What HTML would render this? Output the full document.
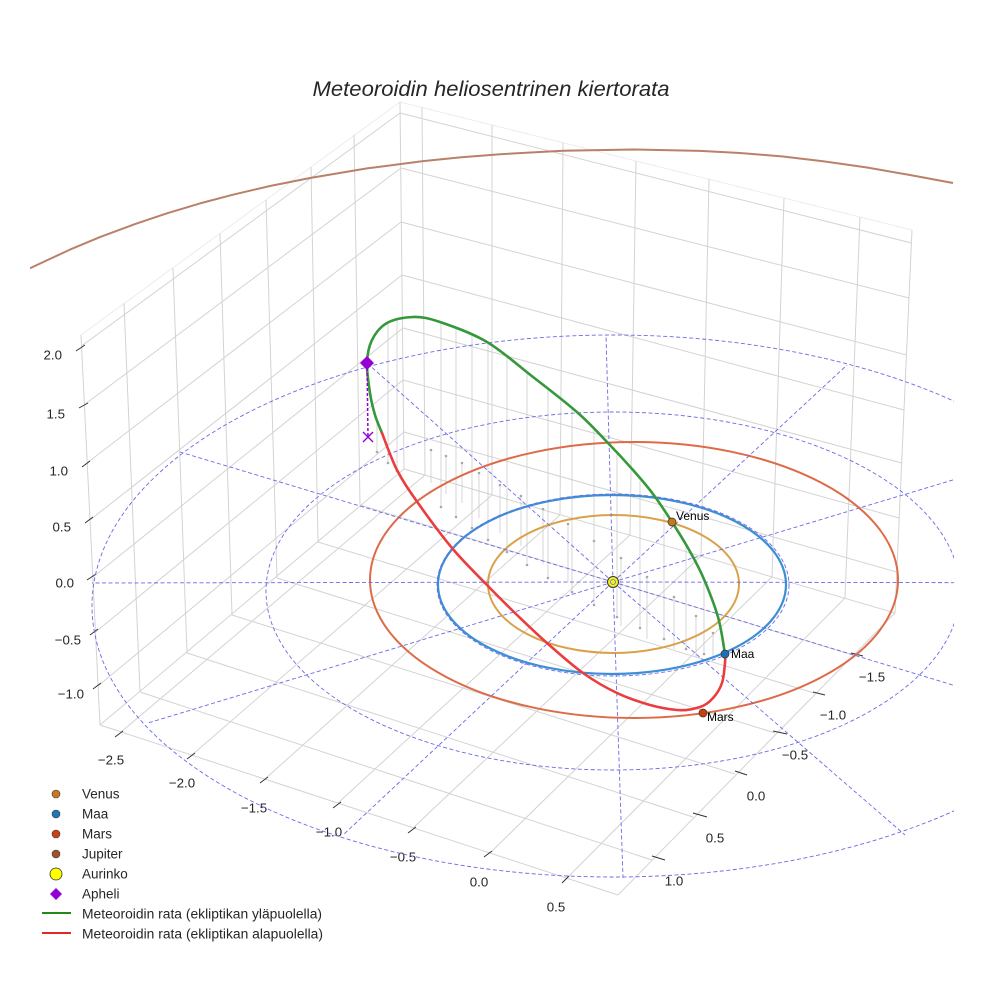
<!DOCTYPE html>
<html><head><meta charset="utf-8"><style>
html,body{margin:0;padding:0;background:#fff;}
svg{display:block;}
text{font-family:"Liberation Sans",sans-serif;fill:#262626;}
</style></head><body>
<svg width="984" height="984" viewBox="0 0 984 984" xmlns="http://www.w3.org/2000/svg">
<defs><clipPath id="cp"><rect x="30" y="0" width="924" height="984"/></clipPath></defs>
<rect width="984" height="984" fill="#fff"/>
<text x="491" y="96" font-size="21.5" font-style="italic" text-anchor="middle" textLength="357" lengthAdjust="spacingAndGlyphs">Meteoroidin heliosentrinen kiertorata</text>

<!-- pane top edges -->
<path d="M81 335 L400 102 L912 230" stroke="#ececec" stroke-width="1" fill="none"/>
<!-- grid -->
<path stroke="#d3d3d3" stroke-width="1" fill="none" d="
M81.5 346 L400 113 M84 405 L401 168 M87 463 L401 222 M90 520 L402 275 M93 577 L403 328 M95.5 632 L403 380 M98 686 L404 432
M124 303 L140 692 M173 268 L187 653 M220 234 L232 615 M266 200 L277 578 M311 167 L318 542 M354 135 L360 505
M400 113 L911.4 243 M401 168 L909 298 M401 222 L906.5 355 M402 275 L904 410 M403 328 L901.7 463 M403 380 L899 518 M404 432 L896.6 572
M422 107.5 L425 475 M492 125 L492 495 M563 143 L560 515 M636 161 L630 535 M709 179 L701 556 M784 198 L772 577 M860 217 L845 598
M121 732 L425 475 M192 755 L492 495 M265 779 L560 515 M338 803 L630 535 M413 828 L701 556 M490 853 L772 577 M567 878 L845 598
M652 860 L140 692 M693 817 L187 653 M735 774 L232 615 M775 733 L277 578 M814 693 L318 542 M853 655 L360 505
M81 335 L100 725 M100 725 L618 895 M618 895 L895 613 M100 725 L404 469 M404 469 L895 613 M400 102 L404 469 M912 230 L895 613"/>

<!-- ticks -->
<path stroke="#333" stroke-width="1" fill="none" d="
M76 351 L85 345 M79 408 L88 403 M82 467 L90 461 M85 523 L93 517 M87 580 L96 574 M90 635 L98 629 M93 689 L101 683
M115 737 L123 731 M187 759 L195 753 M260 783 L268 777 M333 808 L341 802 M408 833 L416 827 M484 857 L492 851 M562 883 L569 876
M652 856 L665 860 M693 813 L707 817 M735 771 L747 775 M773 731 L787 734 M813 692 L825 695 M851 653 L863 656"/>

<g font-size="13.3">
<text x="62" y="355" text-anchor="end" dominant-baseline="central">2.0</text>
<text x="65" y="414" text-anchor="end" dominant-baseline="central">1.5</text>
<text x="68" y="471" text-anchor="end" dominant-baseline="central">1.0</text>
<text x="71" y="527" text-anchor="end" dominant-baseline="central">0.5</text>
<text x="74" y="583" text-anchor="end" dominant-baseline="central">0.0</text>
<text x="81" y="640" text-anchor="end" dominant-baseline="central">−0.5</text>
<text x="84" y="694" text-anchor="end" dominant-baseline="central">−1.0</text>
<text x="111" y="760" text-anchor="middle" dominant-baseline="central">−2.5</text>
<text x="182" y="783" text-anchor="middle" dominant-baseline="central">−2.0</text>
<text x="254" y="808" text-anchor="middle" dominant-baseline="central">−1.5</text>
<text x="329" y="832" text-anchor="middle" dominant-baseline="central">−1.0</text>
<text x="403" y="857" text-anchor="middle" dominant-baseline="central">−0.5</text>
<text x="479" y="882" text-anchor="middle" dominant-baseline="central">0.0</text>
<text x="556" y="907" text-anchor="middle" dominant-baseline="central">0.5</text>
<text x="674" y="881" text-anchor="middle" dominant-baseline="central">1.0</text>
<text x="715" y="838" text-anchor="middle" dominant-baseline="central">0.5</text>
<text x="756" y="796" text-anchor="middle" dominant-baseline="central">0.0</text>
<text x="795" y="755" text-anchor="middle" dominant-baseline="central">−0.5</text>
<text x="833" y="715" text-anchor="middle" dominant-baseline="central">−1.0</text>
<text x="872" y="677" text-anchor="middle" dominant-baseline="central">−1.5</text>
</g>

<g clip-path="url(#cp)">
<!-- stems -->
<g stroke="#c6c6c6" stroke-width="0.7" fill="none">
<path d="M377 418V452 M388 323V463 M397 320V471 M441 322V507 M456 328V517 M472 335V528 M488 343V540 M507 357V552 M527 372V565 M548 389V578 M572 408V592 M594 429V605 M617 454V617 M640 481V628 M664 514V639 M686 545V649 M704 580V654"/>
<path d="M431 450v33 M446 456v38 M462 463v40 M479 473v45 M500 485v48 M521 496v50 M543 509v55 M568 524v58 M621 558v68 M647 577v62 M674 597v52 M696 616v41 M713 633v25"/>
</g>
<g fill="#a8a8a8">
<circle cx="377" cy="452" r="1.3"/><circle cx="388" cy="463" r="1.3"/><circle cx="397" cy="471" r="1.3"/><circle cx="441" cy="507" r="1.3"/><circle cx="456" cy="517" r="1.3"/><circle cx="472" cy="528" r="1.3"/><circle cx="488" cy="540" r="1.3"/><circle cx="507" cy="552" r="1.3"/><circle cx="527" cy="565" r="1.3"/><circle cx="548" cy="578" r="1.3"/><circle cx="572" cy="592" r="1.3"/><circle cx="594" cy="605" r="1.3"/><circle cx="617" cy="617" r="1.3"/><circle cx="640" cy="628" r="1.3"/><circle cx="664" cy="639" r="1.3"/><circle cx="686" cy="649" r="1.3"/><circle cx="704" cy="654" r="1.3"/>
<circle cx="431" cy="450" r="1.3"/><circle cx="446" cy="456" r="1.3"/><circle cx="462" cy="463" r="1.3"/><circle cx="479" cy="473" r="1.3"/><circle cx="500" cy="485" r="1.3"/><circle cx="521" cy="496" r="1.3"/><circle cx="543" cy="509" r="1.3"/><circle cx="568" cy="524" r="1.3"/><circle cx="594" cy="541" r="1.3"/><circle cx="621" cy="558" r="1.3"/><circle cx="647" cy="577" r="1.3"/><circle cx="674" cy="597" r="1.3"/><circle cx="696" cy="616" r="1.3"/><circle cx="713" cy="633" r="1.3"/>
</g>

<!-- planet orbits -->
<ellipse cx="613.5" cy="584" rx="125.5" ry="69" stroke="#d9a24a" stroke-width="2" fill="none"/>
<ellipse cx="612" cy="584.5" rx="174" ry="89.5" stroke="#3d8fd4" stroke-width="2.2" fill="none"/>
<ellipse cx="634" cy="580" rx="264" ry="138" stroke="#de6b48" stroke-width="2" fill="none"/>
<polyline points="30,268.2 70,249.6 100,237.1 135,224.1 167,213.3 200,203.4 233,194.7 270,186 310,178 367,168.4 422,161.3 460,157.4 500,154.2 563,150.8 633,149.5 700,150.9 740,153 783,156.5 825,161.5 867,167.5 910,175 953,183" stroke="#b9806a" stroke-width="2" fill="none" stroke-linejoin="round"/>

<!-- dashed reference grid -->
<g stroke="#6a6ae6" stroke-width="0.9" fill="none" stroke-dasharray="4 2.5">
<ellipse cx="613" cy="585" rx="176" ry="91"/>
<ellipse cx="613" cy="591" rx="347" ry="179"/>
<ellipse cx="613" cy="606" rx="521" ry="271"/>
<path d="M613 582 L92 583 M613 582 L180 452 M613 582 L367 363 M613 582 L606 335 M613 582 L847 365 M613 582 L1046 452 M613 582 L1134 583 M613 582 L1078 723 M613 582 L905 835 M613 582 L623 878 M613 582 L343 835 M613 582 L148 723"/>
</g>

<!-- meteoroid orbit -->
<path d="M725 654 C723.8 647.8 721.7 629.8 718 617 C714.3 604.2 708 588.5 703 577 C698 565.5 693.2 557.2 688 548 C682.8 538.8 677.8 531 672 522 C666.2 513 659.5 502.7 653 494 C646.5 485.3 640.5 478.5 633 470 C625.5 461.5 617.2 452.5 608 443 C598.8 433.5 590.5 424 578 413 C565.5 402 548.2 388.8 533 377 C517.8 365.2 502.5 351.2 487 342 C471.5 332.8 452.3 326.2 440 322 C427.7 317.8 421.8 316.8 413 317 C404.2 317.2 393.8 319.2 387 323 C380.2 326.8 375.3 333.3 372 340 C368.7 346.7 367.3 354.2 367 363 C366.7 371.8 368.7 384.3 370 393 C371.3 401.7 373 408.3 375 415 C377 421.7 380.8 430 382 433" stroke="#35983a" stroke-width="2.6" fill="none" stroke-linecap="round"/>
<path d="M382 433 C384.5 439.2 391 458.3 397 470 C403 481.7 408.8 490 418 503 C427.2 516 440.7 534.5 452 548 C463.3 561.5 475.3 573 486 584 C496.7 595 505.8 604.2 516 614 C526.2 623.8 535.8 633.2 547 643 C558.2 652.8 571.3 664.7 583 673 C594.7 681.3 605.8 687.7 617 693 C628.2 698.3 640 702.2 650 705 C660 707.8 668.7 709.2 677 710 C685.3 710.8 694 709 700 707 C706 705 709.3 702 713 698 C716.7 694 720 688.8 722 683 C724 677.2 724.5 667.8 725 663 C725.5 658.2 725 655.5 725 654" stroke="#ea3d3d" stroke-width="2.6" fill="none" stroke-linecap="round"/>

<!-- aphelion -->
<path d="M367 363 L368 437" stroke="#9400d3" stroke-width="1.5" stroke-dasharray="3 2" fill="none"/>
<path d="M363 432 L373 442 M373 432 L363 442" stroke="#9400d3" stroke-width="1.4" fill="none"/>
<polygon points="367,356 374,363 367,370 360,363" fill="#9400d3"/>

<!-- sun & planets -->
<circle cx="613" cy="582" r="5.5" fill="#f2f21c" stroke="#333" stroke-width="1"/>
<circle cx="613" cy="582" r="2.5" fill="none" stroke="#6a6ae6" stroke-width="0.8"/>
<circle cx="672" cy="522" r="4" fill="#c87a12" stroke="#333" stroke-width="0.7"/>
<circle cx="725" cy="654" r="4" fill="#1f6fb4" stroke="#333" stroke-width="0.7"/>
<circle cx="703" cy="713" r="4" fill="#c8420e" stroke="#333" stroke-width="0.7"/>
</g>
<g font-size="12">
<text x="676" y="516" dominant-baseline="central" style="fill:#000">Venus</text>
<text x="731" y="654" dominant-baseline="central" style="fill:#000">Maa</text>
<text x="707" y="717" dominant-baseline="central" style="fill:#000">Mars</text>
</g>

<!-- legend -->
<circle cx="56" cy="794" r="4" fill="#c8781e" stroke="#333" stroke-width="0.6"/>
<circle cx="56" cy="814" r="4" fill="#1f77b4" stroke="#333" stroke-width="0.6"/>
<circle cx="56" cy="834" r="4" fill="#c84414" stroke="#333" stroke-width="0.6"/>
<circle cx="56" cy="854" r="4" fill="#a0522d" stroke="#333" stroke-width="0.6"/>
<circle cx="56" cy="874" r="6" fill="#ffff00" stroke="#333" stroke-width="0.8"/>
<polygon points="56,888 62,894 56,900 50,894" fill="#9400d3"/>
<path d="M42 913 L71 913" stroke="#1e8a1e" stroke-width="2"/>
<path d="M42 933 L71 933" stroke="#e02828" stroke-width="2"/>
<g font-size="13.5">
<text x="82" y="794" dominant-baseline="central">Venus</text>
<text x="82" y="814" dominant-baseline="central">Maa</text>
<text x="82" y="834" dominant-baseline="central">Mars</text>
<text x="82" y="854" dominant-baseline="central">Jupiter</text>
<text x="82" y="874" dominant-baseline="central">Aurinko</text>
<text x="82" y="894" dominant-baseline="central">Apheli</text>
<text x="82" y="914" dominant-baseline="central" textLength="240" lengthAdjust="spacingAndGlyphs">Meteoroidin rata (ekliptikan yläpuolella)</text>
<text x="82" y="934" dominant-baseline="central" textLength="241" lengthAdjust="spacingAndGlyphs">Meteoroidin rata (ekliptikan alapuolella)</text>
</g>
</svg>
</body></html>
